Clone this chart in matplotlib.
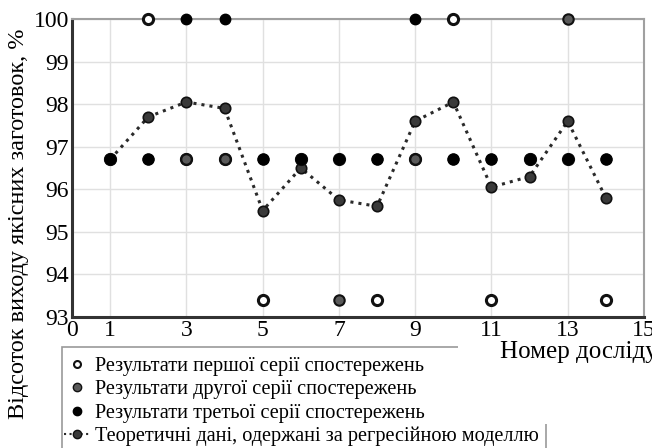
import matplotlib.pyplot as plt
from matplotlib.lines import Line2D
from matplotlib.patches import Rectangle

plt.rcParams['font.family'] = 'serif'
plt.rcParams['font.serif'] = ['Liberation Serif', 'DejaVu Serif']

# Номери дослідів і результати трьох серій спостережень, %
experiments = [1, 2, 3, 4, 5, 6, 7, 8, 9, 10, 11, 12, 13, 14]
series_1 = [96.7, 100, 96.7, 96.7, 93.4, 96.7, 96.7, 93.4, 96.7, 100, 93.4, 96.7, 96.7, 93.4]
series_2 = [96.7, 96.7, 96.7, 96.7, 96.7, 96.7, 93.4, 96.7, 96.7, 96.7, 96.7, 96.7, 100, 96.7]
series_3 = [96.7, 96.7, 100, 100, 96.7, 96.7, 96.7, 96.7, 100, 96.7, 96.7, 96.7, 96.7, 96.7]
# Теоретичні значення за регресійною моделлю
theory = [96.7, 97.7, 98.05, 97.9, 95.5, 96.5, 95.75, 95.6, 97.6, 98.05, 96.05, 96.3, 97.6, 95.8]

x_ticks = [0, 1, 3, 5, 7, 9, 11, 13, 15]
y_ticks = [93, 94, 95, 96, 97, 98, 99, 100]

labels = ['Результати першої серії спостережень',
          'Результати другої серії спостережень',
          'Результати третьої серії спостережень',
          'Теоретичні дані, одержані за регресійною моделлю']

fig = plt.figure(figsize=(6.52, 4.48), dpi=100)
ax = fig.add_axes([0.1104, 0.2924, 0.8773, 0.6652])

ax.plot(experiments, theory, linestyle=':', linewidth=2.2, color='#2a2a2a',
        marker='o', markersize=7.5, markerfacecolor='#3a3a3a',
        markeredgecolor='#111111', markeredgewidth=1.2, zorder=3)
ax.plot(experiments, series_1, linestyle='none', marker='o', markersize=7.3,
        markerfacecolor='white', markeredgecolor='#111111',
        markeredgewidth=2.2, zorder=4, clip_on=False)
ax.plot(experiments, series_2, linestyle='none', marker='o', markersize=7.5,
        markerfacecolor='#5a5a5a', markeredgecolor='#111111',
        markeredgewidth=1.5, zorder=5, clip_on=False)
ax.plot(experiments, series_3, linestyle='none', marker='o', markersize=7.5,
        markerfacecolor='black', markeredgecolor='black',
        markeredgewidth=1, zorder=6, clip_on=False)

ax.set_xlim(0, 15)
ax.set_ylim(93, 100)
ax.set_xticks(x_ticks)
ax.set_yticks(y_ticks)
ax.tick_params(length=0, labelsize=17, pad=2)
ax.grid(True, color='#e0e0e0', linewidth=1)
ax.set_axisbelow(True)

for side in ['left', 'bottom']:
    ax.spines[side].set_color('#333333')
    ax.spines[side].set_linewidth(2.2)
for side in ['top', 'right']:
    ax.spines[side].set_color('#a0a0a0')
    ax.spines[side].set_linewidth(1.5)

fig.text(0.028, 1 - 224 / 448, 'Відсоток виходу якісних заготовок, %', rotation=90,
         ha='center', va='center', fontsize=17.5)

handles = [
    Line2D([], [], linestyle='none', marker='o', markersize=5,
           markerfacecolor='white', markeredgecolor='#111111', markeredgewidth=1.5),
    Line2D([], [], linestyle='none', marker='o', markersize=6,
           markerfacecolor='#5a5a5a', markeredgecolor='#111111', markeredgewidth=1),
    Line2D([], [], linestyle='none', marker='o', markersize=6,
           markerfacecolor='black', markeredgecolor='black'),
    Line2D([], [], linestyle=':', linewidth=1.5, color='#2a2a2a', marker='o',
           markersize=6, markerfacecolor='#3a3a3a', markeredgecolor='#111111'),
]
leg = fig.legend(handles, labels, loc='upper left',
                 bbox_to_anchor=(62 / 652, 1 - 355 / 448), fontsize=14.6,
                 frameon=False, borderpad=0.1, borderaxespad=0,
                 handlelength=1.25, handletextpad=0.3, labelspacing=0.2)

# рамка легенди, що виходить за нижній край рисунка
fig.patches.append(Rectangle((62 / 652, -0.1), 484 / 652, 0.1 + 1 - 347 / 448,
                             transform=fig.transFigure, facecolor='none',
                             edgecolor='#999999', linewidth=1.2, zorder=4))
# біла підкладка під підписом осі, що перекриває верх рамки легенди
fig.patches.append(Rectangle((458 / 652, 1 - 424 / 448), 194 / 652, 84 / 448,
                             transform=fig.transFigure, facecolor='white',
                             edgecolor='none', zorder=6))
fig.text(500 / 652, 1 - 352 / 448, 'Номер досліду', ha='left', va='center',
         fontsize=18, zorder=10)

fig.savefig('out.png', dpi=100)
